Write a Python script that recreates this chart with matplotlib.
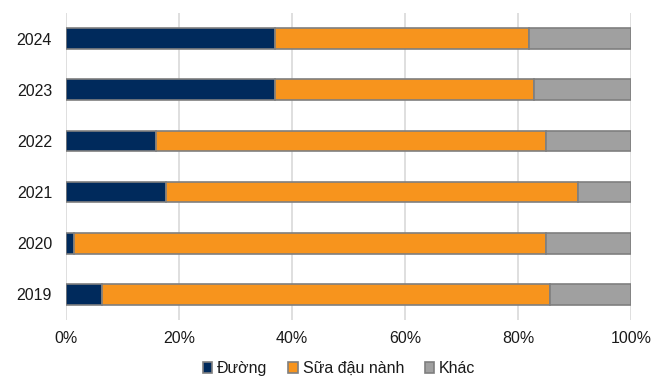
import matplotlib
matplotlib.use("Agg")
import matplotlib.pyplot as plt
import numpy as np

plt.rcParams['font.family'] = ['Liberation Sans', 'DejaVu Sans']

years = ["2019", "2020", "2021", "2022", "2023", "2024"]
duong = [6.3, 1.5, 17.7, 15.9, 37.0, 37.0]
sua_dau_nanh = [79.4, 83.5, 72.9, 69.1, 45.8, 45.0]
khac = [100 - a - b for a, b in zip(duong, sua_dau_nanh)]

series = [("Đường", duong, "#002a5c"),
          ("Sữa đậu nành", sua_dau_nanh, "#f7941d"),
          ("Khác", khac, "#a0a0a0")]

fig = plt.figure(figsize=(6.65, 3.81), dpi=100)
ax = fig.add_axes([0.0992, 0.160, 0.8497, 0.806])

y = np.arange(len(years))
left = np.zeros(len(years))
for name, vals, color in series:
    ax.barh(y, vals, left=left, height=0.4, color=color,
            edgecolor="#7f7f7f", linewidth=1.2, label=name, zorder=3)
    left += np.array(vals)

ax.set_xlim(0, 100)
ax.set_ylim(-0.5, 5.5)
ax.set_yticks(y)
ax.set_yticklabels(years)
ax.set_xticks(np.arange(0, 101, 20))
ax.set_xticklabels([f"{v}%" for v in range(0, 101, 20)])
ax.tick_params(length=0, labelsize=11.5, colors="#1a1a1a")
ax.tick_params(axis="y", pad=10)
ax.tick_params(axis="x", pad=8)
ax.grid(axis="x", color="#dcdcdc", linewidth=1.3, zorder=0)
for s in ax.spines.values():
    s.set_visible(False)

leg = fig.legend(loc="lower center", bbox_to_anchor=(0.51, -0.025), ncol=3,
                 frameon=False, fontsize=11.5, handlelength=0.6, handleheight=0.6,
                 handletextpad=0.3, columnspacing=1.3, labelcolor="#1a1a1a")

fig.savefig("out.png", dpi=100)
